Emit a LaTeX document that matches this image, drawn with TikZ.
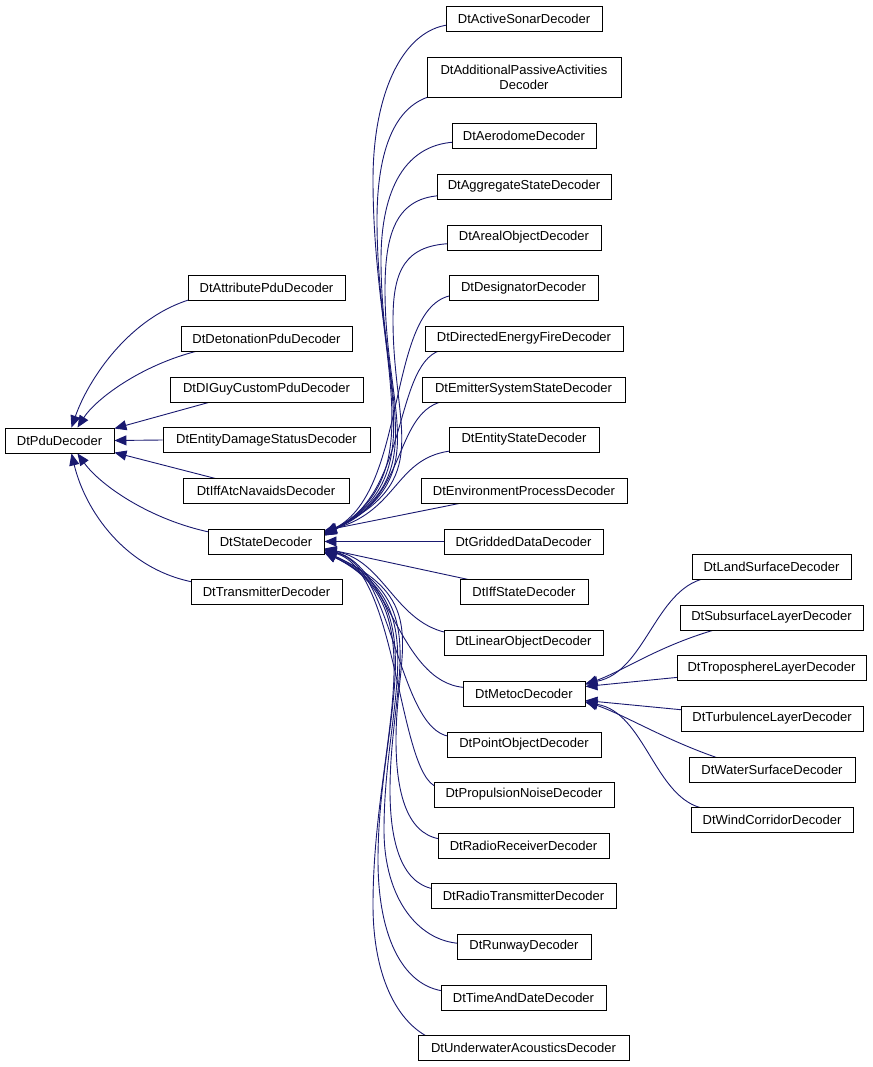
\documentclass[tikz,border=0pt]{standalone}
\usepackage{fontspec}
\setmainfont{Liberation Sans}
\usetikzlibrary{arrows.meta,calc}
\pgfdeclarelayer{bg}
\pgfsetlayers{bg,main}
\definecolor{edgeblue}{RGB}{25,25,112}
\tikzset{
  box/.style={draw=black, fill=white, line width=0.9pt, minimum height=25pt, inner sep=0pt,
    font=\fontsize{13}{15}\selectfont, align=center},
  inh/.style={draw=edgeblue, line width=0.9pt, {Triangle[length=12pt,width=10pt]}-}
}
\newcommand\bx[5]{\node[box, minimum width=#4pt] (#1) at (#2,#3) {#5};}
\begin{document}
\begin{tikzpicture}[x=1pt,y=-1pt]
\useasboundingbox (0,0) rectangle (872,1067);
% left column
\bx{pdu}{59.5}{440.5}{109}{DtPduDecoder}
\bx{attr}{266.5}{288}{157}{DtAttributePduDecoder}
\bx{deto}{266.5}{338.5}{171}{DtDetonationPduDecoder}
\bx{diguy}{266.5}{389.5}{193}{DtDIGuyCustomPduDecoder}
\bx{entdmg}{266.5}{440}{207}{DtEntityDamageStatusDecoder}
\bx{iffatc}{266}{490.5}{166}{DtIffAtcNavaidsDecoder}
\bx{st}{266}{541.5}{116}{DtStateDecoder}
\bx{trans}{266.5}{591.5}{151}{DtTransmitterDecoder}
% right column
\bx{sonar}{524}{18.5}{156}{DtActiveSonarDecoder}
\node[box, minimum width=194pt, minimum height=40pt] (addl) at (524,77) {DtAdditionalPassiveActivities\\Decoder};
\bx{aero}{524}{136}{144}{DtAerodomeDecoder}
\bx{aggr}{524}{186.5}{174}{DtAggregateStateDecoder}
\bx{areal}{524}{237.5}{154}{DtArealObjectDecoder}
\bx{desig}{523.5}{288}{149}{DtDesignatorDecoder}
\bx{dirE}{524}{338.5}{198}{DtDirectedEnergyFireDecoder}
\bx{emit}{523.5}{389.5}{203}{DtEmitterSystemStateDecoder}
\bx{ent}{524}{439.5}{150}{DtEntityStateDecoder}
\bx{envp}{524}{490.5}{206}{DtEnvironmentProcessDecoder}
\bx{grid}{523.5}{541.5}{159}{DtGriddedDataDecoder}
\bx{iffs}{524}{591.5}{128}{DtIffStateDecoder}
\bx{lin}{523.5}{642.5}{159}{DtLinearObjectDecoder}
\bx{metoc}{524}{693.5}{122}{DtMetocDecoder}
\bx{point}{524}{744.5}{154}{DtPointObjectDecoder}
\bx{prop}{524}{794.5}{180}{DtPropulsionNoiseDecoder}
\bx{rrec}{523.5}{845.5}{171}{DtRadioReceiverDecoder}
\bx{rtx}{523.5}{895.5}{185}{DtRadioTransmitterDecoder}
\bx{runway}{524}{946.5}{134}{DtRunwayDecoder}
\bx{tdate}{523.5}{997.5}{165}{DtTimeAndDateDecoder}
\bx{uwa}{523.5}{1047.5}{211}{DtUnderwaterAcousticsDecoder}
% metoc children
\bx{land}{771.5}{566.5}{159}{DtLandSurfaceDecoder}
\bx{subs}{771.5}{617.5}{183}{DtSubsurfaceLayerDecoder}
\bx{tropo}{771.5}{668}{189}{DtTroposphereLayerDecoder}
\bx{turb}{772}{718.5}{182}{DtTurbulenceLayerDecoder}
\bx{water}{772}{769.5}{166}{DtWaterSurfaceDecoder}
\bx{wind}{772}{819.5}{162}{DtWindCorridorDecoder}

\begin{pgfonlayer}{bg}
% --- DtPduDecoder
\draw[inh] ($(pdu.north)+(12,0)$) .. controls (88,380) and (130,315) .. ($(attr.south west)+(8,-3)$);
\draw[inh] ($(pdu.north)+(18,0)$) .. controls (95,400) and (140,365) .. ($(deto.south west)+(19,-1)$);
\draw[inh] ($(pdu.east)+(0,-12)$) -- ($(diguy.south west)+(50,-3)$);
\draw[inh] (pdu.east) -- (entdmg.west);
\draw[inh] ($(pdu.east)+(0,12)$) -- ($(iffatc.north west)+(37,2)$);
\draw[inh] ($(pdu.south)+(18,0)$) .. controls (100,485) and (150,520) .. ($(st.north west)+(4,4)$);
\draw[inh] ($(pdu.south)+(12,0)$) .. controls (85,510) and (125,570) .. ($(trans.north west)+(5,4)$);
% --- DtStateDecoder, upper children
\draw[inh] ($(st.east)+(0,-11)$) -- (envp.center);
\draw[inh] ($(st.east)+(0,-10)$) .. controls (400,510) and (395,455) .. ($(ent.south west)+(7,-2)$);
\draw[inh] ($(st.east)+(0,-9)$) .. controls (410,500) and (392,408) .. ($(emit.south west)+(26,-2)$);
\draw[inh] ($(st.east)+(0,-9)$) .. controls (410,495) and (393,357) .. ($(dirE.south west)+(20,-2)$);
\draw[inh] ($(st.east)+(0,-8)$) .. controls (410,490) and (385,300) .. ($(desig.south west)+(7,-6)$);
\draw[inh] ($(st.east)+(0,-8)$) .. controls (435,480) and (393,430) .. (393,320)
   .. controls (393,270) and (405,244) .. ($(areal.south west)+(8,-7)$);
\draw[inh] ($(st.east)+(0,-7)$) .. controls (435,478) and (385,415) .. (385,290)
   .. controls (385,235) and (395,196) .. ($(aggr.south west)+(8,-4)$);
\draw[inh] ($(st.east)+(0,-7)$) .. controls (435,476) and (381,400) .. (381,260)
   .. controls (381,190) and (405,142) .. ($(aero.south west)+(8,-7)$);
\draw[inh] ($(st.east)+(0,-6)$) .. controls (435,474) and (377,380) .. (377,220)
   .. controls (377,150) and (395,100) .. ($(addl.south west)+(13,-3)$);
\draw[inh] ($(st.east)+(0,-6)$) .. controls (435,472) and (373,360) .. (373,180)
   .. controls (373,90) and (405,26) .. ($(sonar.south west)+(8,-7)$);
% --- DtStateDecoder, middle and lower children
\draw[inh] (st.east) -- (grid.west);
\draw[inh] ($(st.east)+(0,7)$) -- (iffs.center);
\draw[inh] ($(st.east)+(0,8)$) .. controls (385,560) and (395,625) .. ($(lin.north west)+(8,4)$);
\draw[inh] ($(st.east)+(0,8)$) .. controls (390,565) and (400,690) .. ($(metoc.north west)+(8,7)$);
\draw[inh] ($(st.east)+(0,9)$) .. controls (395,565) and (398,740) .. ($(point.north west)+(8,5)$);
\draw[inh] ($(st.east)+(0,9)$) .. controls (400,570) and (398,790) .. ($(prop.north west)+(8,6)$);
\draw[inh] ($(st.east)+(0,10)$) .. controls (432,600) and (396,650) .. (396,740)
   .. controls (396,800) and (410,838) .. ($(rrec.north west)+(8,7)$);
\draw[inh] ($(st.east)+(0,10)$) .. controls (435,602) and (390,680) .. (390,790)
   .. controls (390,850) and (405,888) .. ($(rtx.north west)+(9,7)$);
\draw[inh] ($(st.east)+(0,11)$) .. controls (437,604) and (384,700) .. (384,830)
   .. controls (384,900) and (420,944) .. ($(runway.north west)+(8,10)$);
\draw[inh] ($(st.east)+(0,11)$) .. controls (438,606) and (378,720) .. (378,860)
   .. controls (378,940) and (405,990) .. ($(tdate.north west)+(9,7)$);
\draw[inh] ($(st.east)+(0,11)$) .. controls (440,608) and (373,740) .. (373,905)
   .. controls (373,980) and (400,1030) .. ($(uwa.north west)+(22,7)$);
% --- DtMetocDecoder
\draw[inh] ($(metoc.east)+(0,-10)$) .. controls (645,672) and (655,590) .. ($(land.south west)+(13,-1)$);
\draw[inh] ($(metoc.east)+(0,-9)$) .. controls (625,670) and (660,645) .. ($(subs.south west)+(40,-2)$);
\draw[inh] ($(metoc.east)+(0,-7)$) -- (tropo.center);
\draw[inh] ($(metoc.east)+(0,7)$) -- (turb.center);
\draw[inh] ($(metoc.east)+(0,8)$) .. controls (625,715) and (665,740) .. ($(water.north west)+(31,2)$);
\draw[inh] ($(metoc.east)+(0,9)$) .. controls (645,712) and (655,800) .. ($(wind.north west)+(14,2)$);
\end{pgfonlayer}
\end{tikzpicture}
\end{document}
